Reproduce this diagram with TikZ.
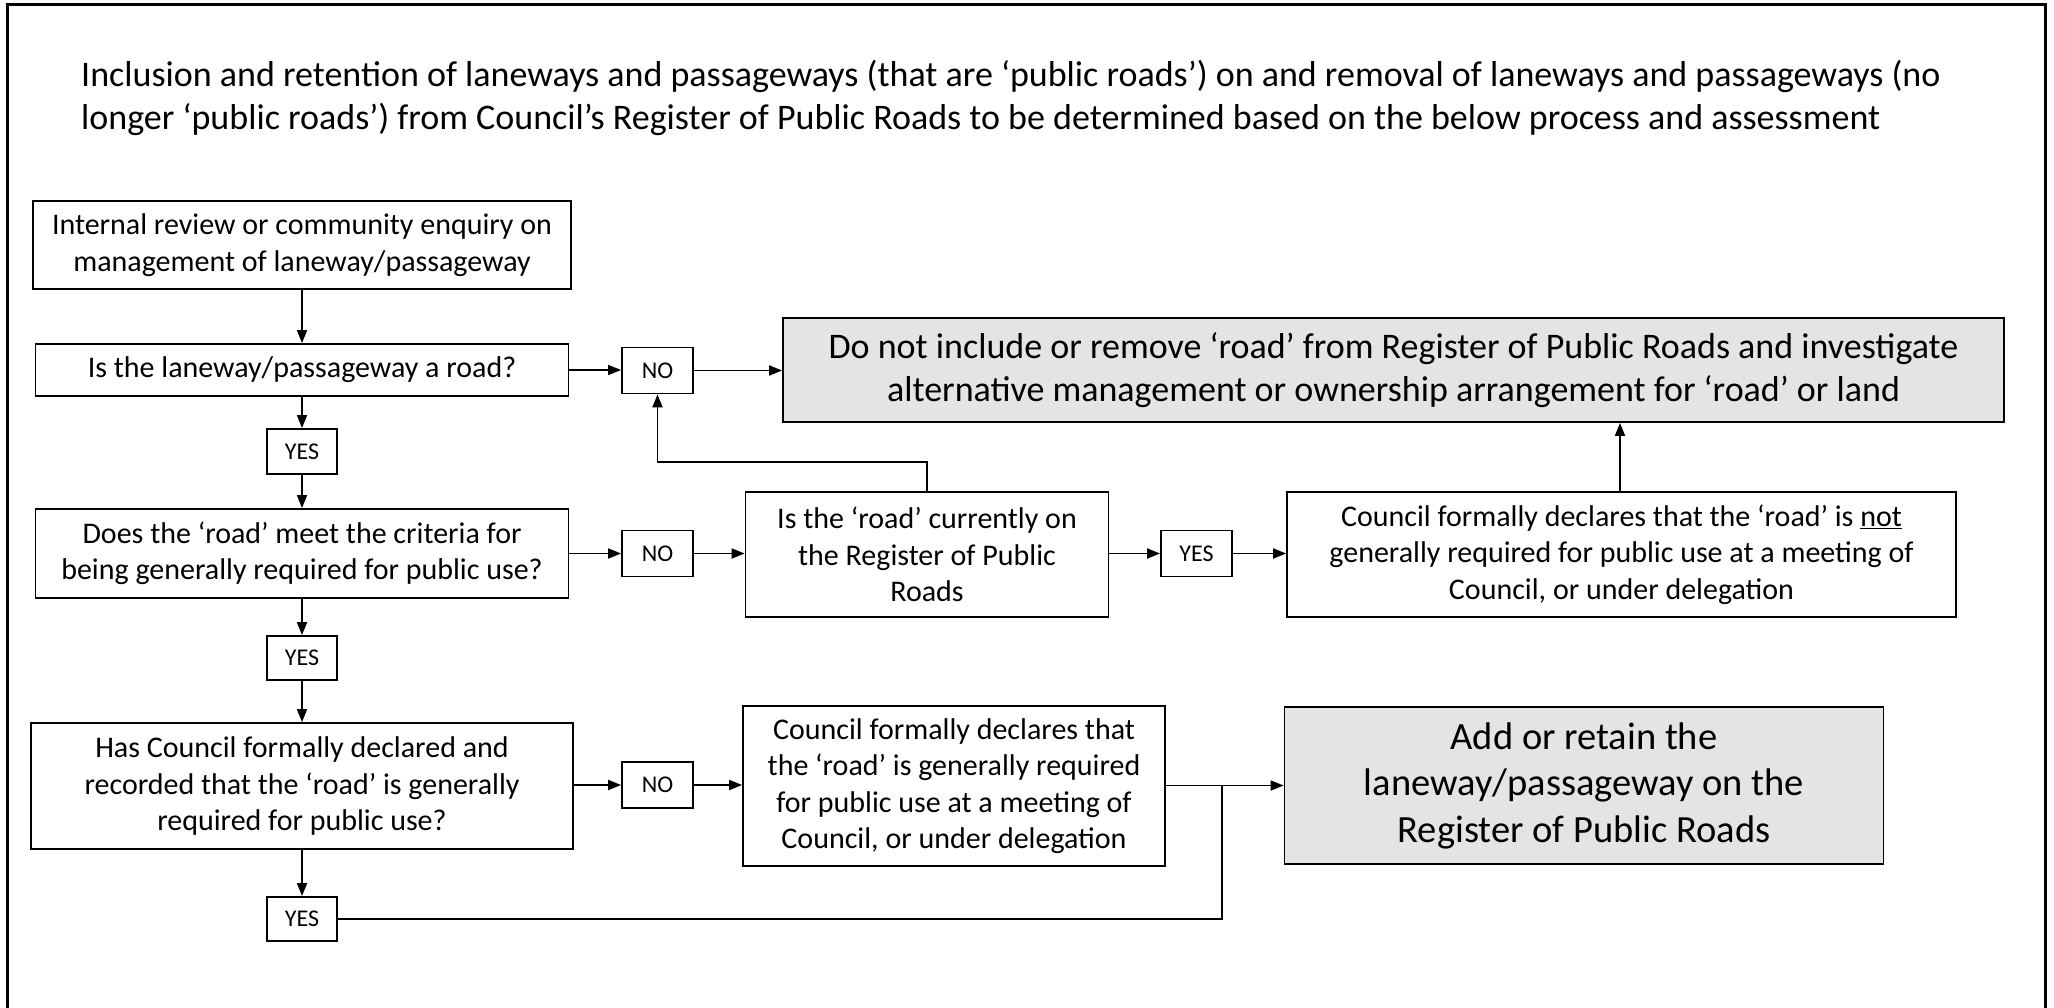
\documentclass[tikz,border=0pt]{standalone}
\usepackage{fontspec}
\setmainfont{Carlito}
\usetikzlibrary{arrows.meta,calc}
\definecolor{greyfill}{RGB}{228,228,228}
\begin{document}
\begin{tikzpicture}[x=1pt,y=-1pt,
  bx/.style={draw, line width=1.8pt, align=center, inner sep=0pt, font=\fontsize{30}{36.5}\selectfont},
  gbx/.style={bx, fill=greyfill},
  lbl/.style={draw, line width=1.8pt, align=center, inner sep=0pt, minimum width=71pt, minimum height=46pt, font=\fontsize{24}{28}\selectfont},
  ttl/.style={anchor=base west, inner sep=0pt, font=\fontsize{36}{42}\selectfont},
  arr/.style={line width=1.8pt, -{Triangle[length=13pt,width=10pt]}},
  ln/.style={line width=1.8pt}]
\useasboundingbox (0,0) rectangle (2054,1008);
\draw[line width=3pt] (7,1008) -- (7,5) -- (2045,5) -- (2045,1008);
\node[ttl] (title1) at (81,87)
 {Inclusion and retention of laneways and passageways (that are ‘public roads’) on and removal of laneways and passageways (no};
\node[ttl] (title2) at (81,129.5)
 {longer ‘public roads’) from Council’s Register of Public Roads to be determined based on the below process and assessment};
\node[bx, minimum width=538pt, minimum height=88pt] (box1) at (302,245)
 {Internal review or community enquiry on\\management of laneway/passageway};
\node[bx, minimum width=533pt, minimum height=52pt] (box2) at (302,370)
 {Is the laneway/passageway a road?};
\node[lbl] (no1) at (657.5,370.5) {NO};
\node[gbx, minimum width=1221pt, minimum height=104pt, font=\fontsize{36}{43}\selectfont] (grey1) at (1393.5,370)
 {Do not include or remove ‘road’ from Register of Public Roads and investigate\\alternative management or ownership arrangement for ‘road’ or land};
\node[lbl, minimum width=70pt, minimum height=45pt] (yes1) at (302,451.5) {YES};
\node[bx, minimum width=533pt, minimum height=89pt] (box3) at (302,553.5)
 {Does the ‘road’ meet the criteria for\\being generally required for public use?};
\node[lbl] (no2) at (657.5,553.5) {NO};
\node[bx, minimum width=363pt, minimum height=125pt] (cur) at (927,554.5)
 {Is the ‘road’ currently on\\the Register of Public\\Roads};
\node[lbl] (yes4) at (1196.5,553.5) {YES};
\node[bx, minimum width=669pt, minimum height=125pt] (notbox) at (1621.5,554.5)
 {Council formally declares that the ‘road’ is \underline{not}\\generally required for public use at a meeting of\\Council, or under delegation};
\node[lbl, minimum width=70pt, minimum height=44pt] (yes2) at (302,658) {YES};
\node[bx, minimum width=542pt, minimum height=126pt] (box4) at (302,786)
 {Has Council formally declared and\\recorded that the ‘road’ is generally\\required for public use?};
\node[lbl] (no3) at (657.5,785) {NO};
\node[bx, minimum width=422pt, minimum height=160pt] (decl) at (954,786)
 {Council formally declares that\\the ‘road’ is generally required\\for public use at a meeting of\\Council, or under delegation};
\node[gbx, minimum width=599pt, minimum height=157pt, font=\fontsize{38.5}{46.5}\selectfont] (grey2) at (1584,785.5)
 {Add or retain the\\laneway/passageway on the\\Register of Public Roads};
\node[lbl, minimum width=70pt, minimum height=44pt] (yes3) at (302,919) {YES};
\coordinate (jn) at (1222,919);
% connectors
\draw[arr] (box1.south) -- (box1.south |- box2.north);
\draw[arr] (box2.east) -- (no1.west |- box2.east);
\draw[arr] (no1.east) -- (grey1.west |- no1.east);
\draw[arr] (box2.south) -- (yes1.north);
\draw[arr] (yes1.south) -- (box3.north);
\draw[arr] (box3.east) -- (no2.west);
\draw[arr] (no2.east) -- (cur.west |- no2.east);
\draw[arr] (cur.north) -- ($(cur.north)+(0,-29)$) -| (no1.south);
\draw[arr] (cur.east |- yes4.west) -- (yes4.west);
\draw[arr] (yes4.east) -- (notbox.west |- yes4.east);
\draw[arr] (notbox.north -| 1620,0) -- (grey1.south -| 1620,0);
\draw[arr] (box3.south) -- (yes2.north);
\draw[arr] (yes2.south) -- (box4.north);
\draw[arr] (box4.east |- no3.west) -- (no3.west);
\draw[arr] (no3.east) -- (decl.west |- no3.east);
\draw[arr] (decl.east |- grey2.west) -- (grey2.west);
\draw[arr] (box4.south) -- (yes3.north);
\draw[ln] (yes3.east) -- (jn) -- (jn |- grey2.west);
\end{tikzpicture}
\end{document}
